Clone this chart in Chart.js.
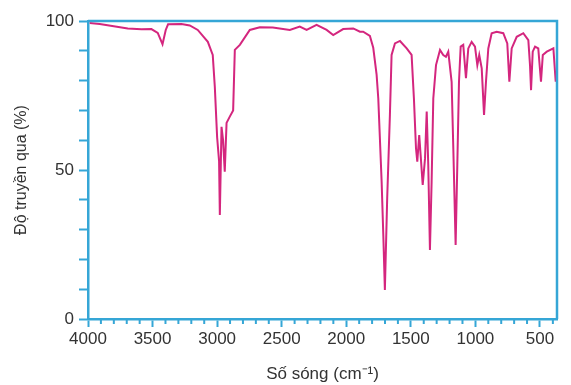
<!DOCTYPE html>
<html lang="vi">
<head>
<meta charset="utf-8">
<title>Phổ IR</title>
<script src="https://cdn.jsdelivr.net/npm/chart.js@4.4.1/dist/chart.umd.min.js"></script>
<style>
  html, body { margin: 0; padding: 0; background: #fff; }
  canvas { display: block; }
</style>
</head>
<body>
<canvas id="phoIR" width="571" height="385"></canvas>
<script>
// Số sóng (cm-1) và độ truyền qua (%)
const soSong = [
  3987, 3909, 3692, 3586, 3509, 3460, 3423, 3398, 3380, 3276, 3212, 3150, 3072, 3034,
  3018, 3000, 2985, 2979, 2966, 2954, 2941, 2927, 2902, 2876, 2863, 2824, 2747, 2669,
  2569, 2437, 2360, 2307, 2230, 2152, 2101, 2024, 1946, 1894, 1869, 1817, 1791, 1765,
  1752, 1726, 1713, 1701, 1683, 1662, 1649, 1623, 1584, 1532, 1494, 1476, 1460, 1450,
  1435, 1424, 1408, 1390, 1377, 1365, 1352, 1339, 1326, 1305, 1274, 1249, 1228, 1210,
  1184, 1171, 1153, 1140, 1127, 1114, 1094, 1073, 1055, 1029, 1003, 985, 970, 951,
  933, 918, 900, 874, 835, 784, 753, 737, 719, 680, 629, 590, 577, 569,
  556, 538, 513, 492, 478, 447, 396, 378
];
const doTruyenQua = [
  99.3, 99.0, 97.5, 97.2, 97.3, 96.0, 92.2, 97.0, 98.9, 99.0, 98.5, 97.0, 93.0, 88.6,
  78.0, 61.0, 53.0, 34.9, 64.5, 60.0, 49.4, 65.8, 67.9, 70.0, 90.3, 92.0, 97.0, 97.9,
  97.8, 97.0, 98.1, 97.0, 98.7, 97.0, 95.3, 97.3, 97.5, 96.4, 96.4, 95.0, 91.0, 82.0,
  74.0, 46.0, 28.0, 9.7, 40.5, 68.5, 88.6, 92.5, 93.3, 90.8, 88.6, 74.0, 57.3, 52.8,
  61.7, 55.0, 45.0, 53.9, 69.6, 51.7, 23.2, 46.0, 74.0, 85.2, 90.3, 88.6, 88.0, 89.7,
  79.6, 57.3, 24.8, 51.7, 79.6, 91.4, 92.0, 80.8, 90.8, 93.0, 91.4, 85.2, 88.6, 84.1,
  68.5, 79.6, 90.8, 95.9, 96.4, 95.9, 92.5, 79.6, 90.8, 94.7, 95.9, 93.6, 85.2, 76.8,
  89.7, 91.4, 90.8, 79.6, 88.6, 89.7, 90.8, 79.6
];

// Vạch chia trục
const nhanTrucX = [4000, 3500, 3000, 2500, 2000, 1500, 1000, 500];
const nhanTrucY = [0, 50, 100];
const buocX = 100;
const buocY = 10;

const MAU_TRUC = '#35a6d6';
const MAU_CHU = '#333333';
const FONT = { family: '"Liberation Sans", Arial, sans-serif', size: 17 };

// Vạch chia phụ trên trục x (ngắn hơn vạch chính)
const vachPhu = {
  id: 'vachPhu',
  afterDraw(chart) {
    const { ctx, chartArea, scales } = chart;
    const x = scales.x;
    ctx.save();
    ctx.strokeStyle = MAU_TRUC;
    ctx.lineWidth = 2.5;
    // khung trên và phải
    ctx.beginPath();
    ctx.moveTo(chartArea.left, chartArea.top);
    ctx.lineTo(chartArea.right, chartArea.top);
    ctx.lineTo(chartArea.right, chartArea.bottom);
    ctx.stroke();
    ctx.lineWidth = 2;
    x.ticks.forEach(t => {
      if (nhanTrucX.includes(t.value)) return;
      const px = x.getPixelForValue(t.value);
      ctx.beginPath();
      ctx.moveTo(px, chartArea.bottom);
      ctx.lineTo(px, chartArea.bottom + 5);
      ctx.stroke();
    });
    ctx.restore();
  }
};

const ctx = document.getElementById('phoIR').getContext('2d');
new Chart(ctx, {
  type: 'line',
  data: {
    datasets: [{
      data: soSong.map((s, i) => ({ x: s, y: doTruyenQua[i] })),
      borderColor: '#d4267e',
      borderWidth: 2,
      pointRadius: 0,
      tension: 0,
      fill: false
    }]
  },
  options: {
    responsive: false,
    animation: false,
    layout: { padding: { top: 21, right: 14, left: 0, bottom: 0 } },
    plugins: { legend: { display: false }, tooltip: { enabled: false } },
    scales: {
      x: {
        type: 'linear',
        reverse: true,
        min: 368,
        max: 4000,
        afterFit: s => { s.height = 66; },
        afterBuildTicks: s => {
          const ds = [];
          for (let v = 4000; v >= 400; v -= buocX) ds.push({ value: v });
          s.ticks = ds;
        },
        ticks: {
          color: MAU_CHU,
          font: FONT,
          padding: 2,
          maxRotation: 0,
          autoSkip: false,
          callback: v => nhanTrucX.includes(v) ? String(v) : ''
        },
        grid: {
          drawOnChartArea: false,
          tickLength: 8,
          tickWidth: 2,
          tickColor: c => (c.tick && nhanTrucX.includes(c.tick.value)) ? MAU_TRUC : 'rgba(0,0,0,0)'
        },
        border: { color: MAU_TRUC, width: 2.5 },
        title: {
          display: true,
          text: 'Số sóng (cm⁻¹)',
          color: MAU_CHU,
          font: FONT,
          padding: { top: 0, bottom: 0 }
        }
      },
      y: {
        min: 0,
        max: 100,
        afterFit: s => { s.width = 88; },
        afterBuildTicks: s => {
          const ds = [];
          for (let v = 0; v <= 100; v += buocY) ds.push({ value: v });
          s.ticks = ds;
        },
        ticks: {
          color: MAU_CHU,
          font: FONT,
          padding: 5,
          autoSkip: false,
          callback: v => nhanTrucY.includes(v) ? String(v) : ''
        },
        grid: {
          drawOnChartArea: false,
          tickLength: 9,
          tickWidth: 2,
          tickColor: MAU_TRUC
        },
        border: { color: MAU_TRUC, width: 2.5 },
        title: {
          display: true,
          text: 'Độ truyền qua (%)',
          color: MAU_CHU,
          font: { family: FONT.family, size: 16 },
          padding: { top: 12, bottom: 0 }
        }
      }
    }
  },
  plugins: [vachPhu]
});
</script>
</body>
</html>
